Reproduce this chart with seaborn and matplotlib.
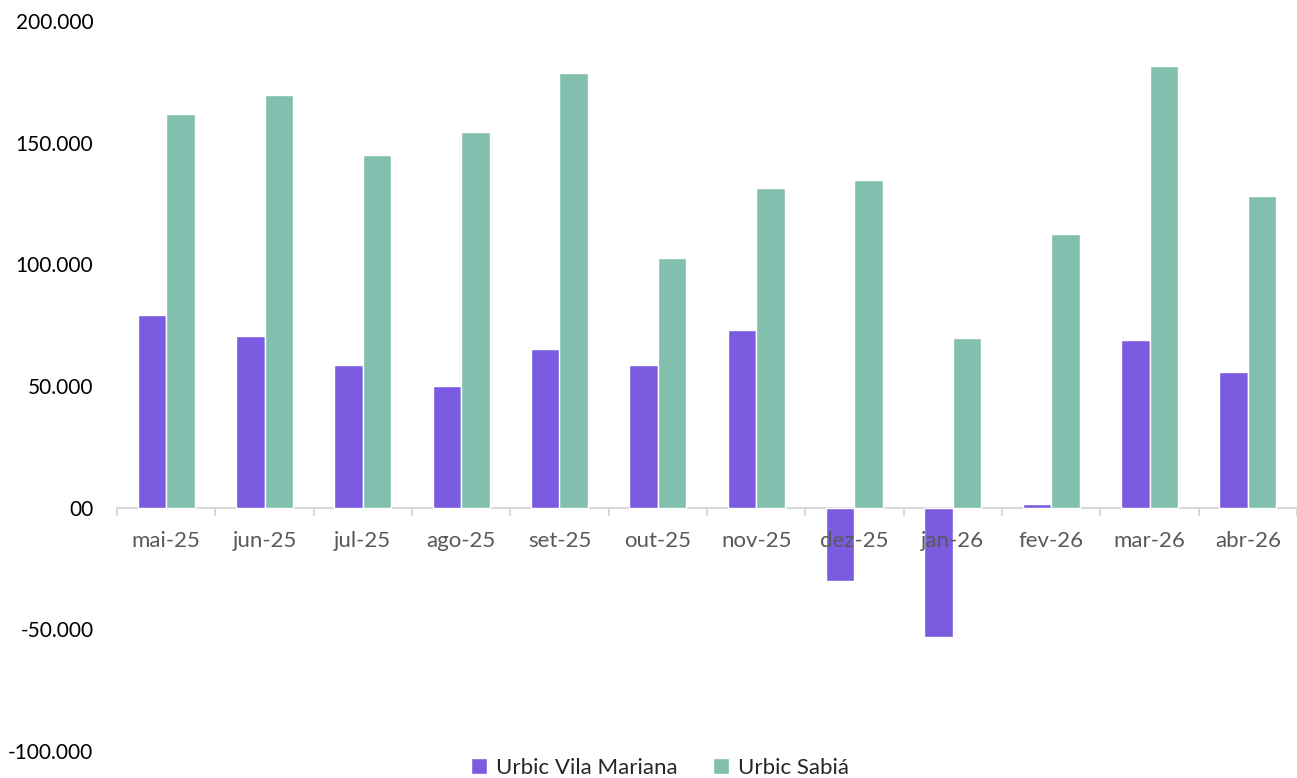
import matplotlib
matplotlib.use("Agg")
import matplotlib.pyplot as plt
import seaborn as sns
import pandas as pd

months = ["mai-25", "jun-25", "jul-25", "ago-25", "set-25", "out-25",
          "nov-25", "dez-25", "jan-26", "fev-26", "mar-26", "abr-26"]
vila_mariana = [79300, 70600, 58700, 50100, 65300, 58700,
                73100, -30000, -53000, 1600, 69000, 55900]
sabia = [161800, 169600, 145000, 154400, 178600, 102700,
         131400, 134700, 69800, 112500, 181500, 128100]
series_names = ["Urbic Vila Mariana", "Urbic Sabiá"]
colors = ["#7B5CE1", "#82BFAE"]
ytick_vals = [-100000, -50000, 0, 50000, 100000, 150000, 200000]
ytick_labels = ["-100.000", "-50.000", "00", "50.000", "100.000", "150.000", "200.000"]

df = pd.DataFrame({
    "mes": months * 2,
    "valor": vila_mariana + sabia,
    "serie": [series_names[0]] * len(months) + [series_names[1]] * len(months),
})

sns.set_theme(style="white")
plt.rcParams["font.family"] = ["Lato", "DejaVu Sans"]

fig = plt.figure(figsize=(12.97, 7.78), dpi=100)
ax = fig.add_axes([117 / 1297, 27 / 778, 1 - 117 / 1297, (751 - 21) / 778])

sns.barplot(data=df, x="mes", y="valor", hue="serie", order=months,
            hue_order=series_names, palette=colors, width=0.58,
            saturation=1, ax=ax, legend=True)

ax.set_ylim(-100000, 200000)
ax.set_xlim(-0.5, len(months) - 0.5)
ax.set_yticks(ytick_vals)
ax.set_yticklabels(ytick_labels)
ax.set_xlabel("")
ax.set_ylabel("")
for s in ["top", "right", "left", "bottom"]:
    ax.spines[s].set_visible(False)

ax.axhline(0, color="#D9D9D9", lw=1.5, zorder=0.5)
ax.tick_params(axis="y", length=0, labelsize=15, labelcolor="#000000", pad=17)
ax.tick_params(axis="x", length=0, labelsize=16, labelcolor="#595959", pad=0)
ax.set_xticks(range(len(months)))
ax.set_xticklabels([])
for i, m in enumerate(months):
    ax.text(i, -9500, m, ha="center", va="top", fontsize=16, color="#595959")
for b in range(len(months) + 1):
    ax.plot([b - 0.5, b - 0.5], [0, -3000], color="#D9D9D9", lw=1.5,
            clip_on=False, zorder=0.5)

leg = ax.get_legend()
handles, labels = ax.get_legend_handles_labels()
leg.remove()
fig.legend(handles, labels, loc="center", bbox_to_anchor=(660 / 1297, 1 - 768 / 778),
           ncol=2, frameon=False, fontsize=16, handlelength=0.7, handleheight=0.7,
           handletextpad=0.4, columnspacing=1.6)

fig.savefig("out.png", dpi=100)
